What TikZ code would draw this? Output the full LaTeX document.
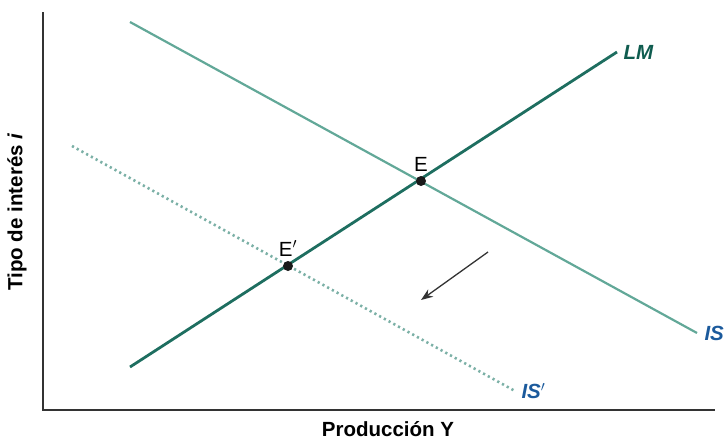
\documentclass[tikz,border=0pt]{standalone}
\usepackage{fontspec}
\setmainfont{Liberation Sans}
\usetikzlibrary{arrows.meta,positioning}
\definecolor{lmgreen}{HTML}{1E6E60}
\definecolor{isgreen}{HTML}{62A898}
\definecolor{isdots}{HTML}{7BB0A6}
\definecolor{lblgreen}{HTML}{0F5C4F}
\definecolor{lblblue}{HTML}{1B5A9C}
\definecolor{axisgray}{HTML}{333333}
\tikzset{
  axislbl/.style={font=\fontsize{20.5}{24}\selectfont\bfseries},
  curvelbl/.style={font=\fontsize{20.5}{24}\selectfont\bfseries\itshape},
  ptlbl/.style={font=\fontsize{20.5}{24}\selectfont},
  eqpt/.style={circle,fill=black!90,inner sep=0pt,minimum size=10pt}
}
\begin{document}
\begin{tikzpicture}[x=1pt,y=-1pt,>=Latex]
  \useasboundingbox (0,0) rectangle (726,445);
  % axes
  \coordinate (o) at (43,410);
  \coordinate (ytop) at (43,12);
  \coordinate (xend) at (715,410);
  \draw[axisgray,line width=2pt] (ytop) -- (o) -- (xend);
  \node[axislbl] (ylab) at (17,212) [rotate=90] {Tipo de interés \textit{i}};
  \node[axislbl] (xlab) at (388,429) {Producción Y};
  % curves
  \coordinate (lma) at (130,367);
  \coordinate (lmb) at (617,52);
  \coordinate (isa) at (130,22);
  \coordinate (isb) at (697,333);
  \coordinate (ispa) at (72,146);
  \coordinate (ispb) at (515,391);
  \draw[isdots,line width=2.6pt,dash pattern=on 2.2pt off 3.2pt] (ispa) -- (ispb);
  \draw[isgreen,line width=2.2pt] (isa) -- (isb);
  \draw[lmgreen,line width=2.8pt] (lma) -- (lmb);
  \node[curvelbl,lblgreen,right=3pt of lmb] (lmlab) {LM};
  \node[curvelbl,lblblue,right=4pt of isb] (islab) {IS};
  \node[curvelbl,lblblue,right=3pt of ispb] (isplab) {IS$'$};
  % equilibria
  \node[eqpt] (e) at (421,181) {};
  \node[eqpt] (ep) at (288,266) {};
  \node[ptlbl,above=1pt of e] (elab) {E};
  \node[ptlbl,above=1pt of ep] (eplab) {E$'$};
  % shift
  \coordinate (sa) at (488,252);
  \coordinate (sb) at (421,300);
  \draw[axisgray,line width=1.3pt,-{Stealth[length=12pt,width=9pt]}] (sa) -- (sb);
\end{tikzpicture}
\end{document}
